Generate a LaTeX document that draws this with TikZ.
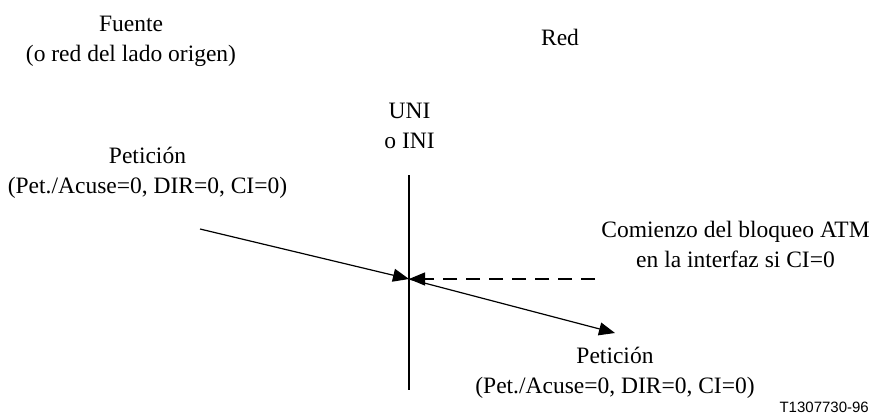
\documentclass[tikz,border=0pt]{standalone}
\usepackage{fontspec}
\setmainfont{Liberation Serif}
\newfontfamily\labelsans{Liberation Sans}
\usetikzlibrary{arrows.meta}

\tikzset{
  lbl/.style={inner sep=0pt,align=center,font=\fontsize{23.5}{30}\selectfont},
  flow/.style={line width=1.2pt,-{Triangle[length=16pt,width=13pt]}},
}

\begin{document}
\begin{tikzpicture}[x=1pt,y=1pt,yscale=-1,xscale=1]
\useasboundingbox (0,0) rectangle (875,420);

%Shape: Line [id:uni]
\coordinate (uniTop) at (409,175);
\coordinate (uniBot) at (409,390);
\draw [line width=1.2pt]  (uniTop) -- (uniBot) ;

%Points of the request path
\coordinate (reqIn) at (200,229);
\coordinate (reqX) at (409,279);
\coordinate (reqOut) at (615,333);
\coordinate (lockS) at (595,279);

%Shape: Arrow [id:reqin]
\draw [flow]  (reqIn) -- (reqX) ;
%Shape: Arrow [id:reqout]
\draw [flow]  (reqX) -- (reqOut) ;
%Shape: Dashed arrow [id:lock]
\draw [flow,dash pattern=on 14pt off 9pt]  (lockS) -- (reqX) ;

% Text Node (anchor base = last line)
\node (fuente) [lbl,anchor=base] at (131,62) {Fuente\\(o red del lado origen)};
% Text Node
\node (red) [lbl,anchor=base] at (560,46) {Red};
% Text Node
\node (uni) [lbl,anchor=base] at (409.5,148) {UNI\\o INI};
% Text Node
\node (petIn) [lbl,anchor=base] at (147.5,193) {Petición\\(Pet./Acuse=0, DIR=0, CI=0)};
% Text Node
\node (bloqueo) [lbl,anchor=base] at (735.5,267) {Comienzo del bloqueo ATM\\en la interfaz si CI=0};
% Text Node
\node (petOut) [lbl,anchor=base] at (615,393) {Petición\\(Pet./Acuse=0, DIR=0, CI=0)};
% Text Node
\node (ref) [inner sep=0pt,anchor=base east,font=\labelsans\fontsize{15}{18}\selectfont] at (869,412) {T1307730-96};

\end{tikzpicture}
\end{document}
